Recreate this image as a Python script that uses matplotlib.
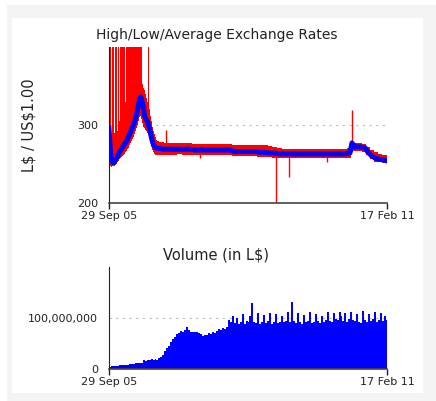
import numpy as np
import matplotlib
matplotlib.use("Agg")
import matplotlib.pyplot as plt
import matplotlib.dates as mdates
from matplotlib.patches import Rectangle

# ---- data ----
start_date = np.datetime64("2005-09-29")
end_date = np.datetime64("2011-02-17")

# days since start, daily high / low / average (L$ per US$1)
price_days = [0, 7, 14, 21, 28, 35, 42, 49, 56, 63, 70, 77, 84, 91, 98, 105, 112, 119,
              126, 133, 140, 147, 154, 161, 168, 175, 182, 189, 196, 203, 210, 217, 224,
              231, 238, 245, 252, 259, 266, 273, 280, 287, 294, 301, 308, 315, 322, 329,
              336, 350, 364, 380, 395, 410,
              432, 467, 502, 538, 573, 608, 644, 679, 715, 750, 785, 821, 856, 891, 927,
              962, 998, 1033, 1068, 1104, 1139, 1174, 1210, 1245, 1280, 1316, 1351, 1386,
              1422, 1457, 1492, 1528, 1563, 1599, 1634, 1670, 1705, 1719, 1740, 1776, 1811,
              1832, 1861, 1889, 1917, 1946, 1967]
price_high = [420, 285, 420, 283, 420, 420, 290, 420, 420, 292, 420, 305, 420, 420, 420, 420,
              420, 330, 420, 420, 420, 420, 420, 420, 420, 420, 420, 420, 420, 420, 420, 420,
              420, 420, 352, 348, 345, 340, 335, 330, 420, 320, 312, 305, 298, 292, 288, 284,
              281, 279, 278, 278, 277, 277,
              277, 277, 277, 277, 277, 276, 276, 276, 276, 276, 276, 276, 276, 275, 275,
              275, 275, 275, 274, 274, 273, 272, 270, 269, 269, 269, 269, 269,
              269, 269, 269, 269, 269, 269, 269, 269, 270, 277, 277, 277, 276,
              272, 268, 265, 263, 262, 261]
price_low = [250, 248, 247, 246, 247, 248, 248, 249, 250, 252, 254, 256, 258, 259, 260, 262,
             263, 265, 267, 269, 271, 274, 277, 279, 282, 285, 288, 292, 296, 300, 305, 310,
             312, 308, 303, 298, 296, 294, 292, 290, 287, 283, 278, 272, 268, 265, 263, 262,
             262, 262, 262, 262, 262, 262,
             262, 262, 263, 262, 262, 262, 262, 262, 262, 262, 262, 262, 261, 260, 260,
             260, 260, 260, 259, 259, 259, 258, 258, 258, 258, 258, 258, 258,
             258, 258, 258, 258, 258, 258, 258, 258, 258, 266, 267, 267, 266,
             261, 256, 253, 252, 251, 251]
price_avg = [296, 275, 258, 254, 252, 252, 254, 256, 258, 261, 264, 266, 268, 270, 272, 274,
             276, 278, 280, 283, 286, 289, 292, 295, 298, 301, 305, 309, 314, 320, 327, 333,
             336, 333, 327, 320, 312, 308, 306, 304, 300, 295, 289, 283, 278, 275, 273, 271,
             270, 270, 270, 269, 269, 269,
             269, 269, 269, 269, 269, 268, 268, 268, 268, 268, 268, 268, 268, 266, 266,
             266, 266, 266, 265, 265, 264, 264, 263, 263, 263, 263, 263, 263,
             263, 263, 263, 263, 263, 263, 263, 263, 264, 277, 272, 272, 271,
             265, 260, 257, 256, 255, 254]

# single-day outliers: day, low, high
spike_days = [403, 644, 1181, 1274, 1542, 1719]
spike_low = [270, 258, 200, 233, 253, 272]
spike_high = [294, 270, 265, 263, 263, 319]

# traded volume, one value per 14 days from start (millions of L$)
vol_step_days = 14
volume_m = [4, 5, 5, 6, 6, 7, 7, 7, 8, 8,
            9, 10, 10, 11, 12, 12, 12,
            18, 16, 18, 17, 19, 18, 20, 18, 21, 23,
            28, 36, 42, 46, 52, 58, 63, 68, 71,
            74, 72, 77, 82, 76, 72, 73, 72, 72, 71,
            68, 65, 67, 66, 70, 68, 72, 70, 74, 78, 76, 80, 78, 82,
            96, 92, 104, 90, 100, 88, 92, 108, 89, 94, 92, 104,
            129, 92, 90, 110, 88, 93, 106, 90, 94, 110, 88, 92, 108, 90, 92, 104, 92, 94, 112,
            92, 131, 94, 90, 110, 92, 88, 106, 92, 94, 112, 90, 92, 108, 94, 90, 104, 92, 96,
            112, 94, 92, 110, 98, 96, 112, 104, 94, 110, 92, 98, 112, 96, 94, 108, 92, 90,
            114, 96, 92, 108, 94, 98, 112, 92, 96, 110, 94, 104, 96]

price_dates = start_date + np.array(price_days).astype("timedelta64[D]")
spike_dates = start_date + np.array(spike_days).astype("timedelta64[D]")
vol_dates = start_date + (np.arange(len(volume_m)) * vol_step_days).astype("timedelta64[D]")
volume = np.array(volume_m) * 1e6

plt.rcParams['font.family'] = ['DejaVu Sans']

fig = plt.figure(figsize=(4.36, 4.01), dpi=100)
fig.patch.set_facecolor("white")

# light grey frame with white panel inside
fig.patches.append(Rectangle((7 / 436, 0), 1 - 7 / 436, 396 / 401, transform=fig.transFigure,
                             facecolor="#f4f4f4", edgecolor="none", zorder=-10))
fig.patches.append(Rectangle((12 / 436, 8 / 401), (423 - 12) / 436, (393 - 18) / 401,
                             transform=fig.transFigure, facecolor="white", edgecolor="none",
                             zorder=-9))

ax1 = fig.add_axes([109 / 436, 198 / 401, 278 / 436, 156 / 401])
ax2 = fig.add_axes([109 / 436, 32 / 401, 278 / 436, 102 / 401])

for ax in (ax1, ax2):
    ax.set_facecolor("none")
    for side in ("top", "right"):
        ax.spines[side].set_visible(False)
    ax.spines["left"].set_color("#222222")
    ax.spines["bottom"].set_color("#444444")
    ax.spines["bottom"].set_linewidth(1.2)
    ax.set_xlim(start_date, end_date)
    ax.set_xticks([start_date, end_date])
    ax.xaxis.set_major_formatter(mdates.DateFormatter("%d %b %y"))
    ax.tick_params(axis="x", length=4, width=1, pad=2, labelsize=8, colors="#222222")
    ax.tick_params(axis="y", length=0, pad=8, labelsize=8, colors="#222222")

# --- exchange rates ---
ax1.fill_between(price_dates, price_low, price_high, step="mid", color="#ff0000",
                 linewidth=0, zorder=2)
ax1.vlines(spike_dates, spike_low, spike_high, color="#ff0000", linewidth=1, zorder=2)
ax1.plot(price_dates, price_avg, color="#0000ff", linewidth=3.6, zorder=3)
ax1.set_ylim(200, 400)
ax1.set_yticks([200, 300])
ax1.axhline(300, color="#bbbbbb", linewidth=0.8, linestyle=(0, (2, 4)), zorder=1)
ax1.set_ylabel(r"L\$ / US\$1.00", fontsize=10.5, color="#222222")
ax1.yaxis.set_label_coords((37 - 109) / 278, (203 - 125) / 156)

# --- volume ---
ax2.bar(vol_dates, volume, width=vol_step_days, align="edge", color="#0000ff",
        linewidth=0, zorder=2)
ax2.set_ylim(0, 200e6)
ax2.set_yticks([0, 100e6])
ax2.set_yticklabels(["0", "100,000,000"])
ax2.axhline(100e6, color="#bbbbbb", linewidth=0.8, linestyle=(0, (2, 4)), zorder=1)

fig.text(217 / 436, 1 - 35 / 401, "High/Low/Average Exchange Rates", ha="center",
         va="center", fontsize=10, color="#222222")
fig.text(216 / 436, 1 - 255 / 401, r"Volume (in L\$)", ha="center", va="center",
         fontsize=10.5, color="#222222")

fig.savefig("out.png", dpi=100)
